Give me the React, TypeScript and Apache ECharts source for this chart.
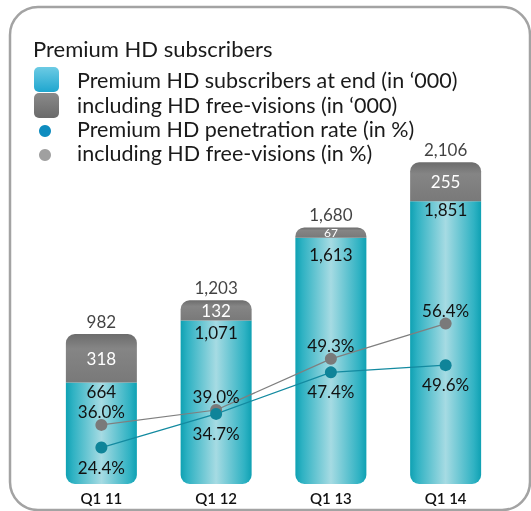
import React, { useEffect, useRef } from "react";
import * as echarts from "echarts";

const categories = ["Q1 11", "Q1 12", "Q1 13", "Q1 14"];
const subscribers = [664, 1071, 1613, 1851];
const freeVisions = [318, 132, 67, 255];
const penetrationRate = [24.4, 34.7, 47.4, 49.6];
const penetrationInclFree = [36.0, 39.0, 49.3, 56.4];

const titleText = "Premium HD subscribers";
const legendItems = [
  "Premium HD subscribers at end (in \u2018000)",
  "including HD free-visions (in \u2018000)",
  "Premium HD penetration rate (in %)",
  "including HD free-visions (in %)",
];

const FONT = "Lato, 'Open Sans', sans-serif";

const fmt = (v: number) => v.toLocaleString("en-US");

export default function App() {
  const ref = useRef<HTMLDivElement>(null);
  useEffect(() => {
    if (!ref.current) return;
    const chart = echarts.init(ref.current, null, { renderer: "svg" });
    const totals = subscribers.map((v, i) => v + freeVisions[i]);

    const tealGrad = new echarts.graphic.LinearGradient(0, 0, 1, 0, [
      { offset: 0, color: "#0fa1b3" },
      { offset: 0.1, color: "#2fb2c3" },
      { offset: 0.5, color: "#a6dbe3" },
      { offset: 0.9, color: "#2fb2c3" },
      { offset: 1, color: "#0fa1b3" },
    ]);
    const grayGrad = new echarts.graphic.LinearGradient(0, 0, 0, 1, [
      { offset: 0, color: "#6c6c6c" },
      { offset: 0.3, color: "#858585" },
      { offset: 1, color: "#797979" },
    ]);

    const legendGraphics: any[] = [];
    const rowY = [80, 105, 129, 153];
    legendItems.forEach((t, i) => {
      if (i === 0) {
        legendGraphics.push({
          type: "rect",
          shape: { x: 34, y: rowY[i] - 13, width: 25, height: 25, r: 5 },
          style: {
            fill: new echarts.graphic.LinearGradient(0, 0, 0, 1, [
              { offset: 0, color: "#6ccbe4" },
              { offset: 1, color: "#1fa6cf" },
            ]),
          },
        });
      } else if (i === 1) {
        legendGraphics.push({
          type: "rect",
          shape: { x: 34, y: rowY[i] - 12, width: 25, height: 25, r: 5 },
          style: {
            fill: new echarts.graphic.LinearGradient(0, 0, 0, 1, [
              { offset: 0, color: "#8a8a8a" },
              { offset: 1, color: "#6a6a6a" },
            ]),
          },
        });
      } else {
        legendGraphics.push({
          type: "circle",
          shape: { cx: 45, cy: rowY[i] + 2, r: 6 },
          style: { fill: i === 2 ? "#0e8cbf" : "#a0a0a0" },
        });
      }
      legendGraphics.push({
        type: "text",
        x: 77,
        y: rowY[i],
        style: {
          text: t,
          fill: "#1a1a1a",
          font: `21.5px ${FONT}`,
          verticalAlign: "middle",
        },
      });
    });

    const valueLabel = {
      color: "#111",
      fontSize: 17,
      lineHeight: 17,
      fontFamily: FONT,
    };

    // push the teal-segment label further down when the grey cap above is short
    const tealLabelGap = (grey: number) => (grey < 100 ? 8 : grey < 200 ? 4 : 0);

    chart.setOption({
      animation: false,
      grid: { left: 44, right: 28, top: 148, bottom: 27 },
      graphic: [
        {
          type: "rect",
          shape: { x: 10, y: 7, width: 520, height: 503, r: 28 },
          style: { fill: "#ffffff", stroke: "#a3a3a3", lineWidth: 2.5 },
          z: -10,
        },
        {
          type: "text",
          x: 33,
          y: 48,
          style: {
            text: titleText,
            fill: "#1a1a1a",
            font: `22px ${FONT}`,
            verticalAlign: "middle",
          },
        },
        ...legendGraphics,
      ],
      xAxis: {
        type: "category",
        data: categories,
        axisLine: { show: false },
        axisTick: { show: false },
        axisLabel: {
          color: "#111",
          fontSize: 15,
          fontFamily: FONT,
          fontWeight: 600,
          margin: 6,
        },
      },
      yAxis: [
        { type: "value", min: 0, max: 2200, show: false },
        { type: "value", min: 24.1, max: 91.75, show: false },
        { type: "value", min: 13.26, max: 116, show: false },
      ],
      series: [
        {
          name: legendItems[0],
          type: "bar",
          stack: "subs",
          barWidth: 71,
          data: subscribers.map((v, i) => ({
            value: v,
            label: { distance: tealLabelGap(freeVisions[i]) },
          })),
          itemStyle: { color: tealGrad, borderRadius: [0, 0, 9, 9] },
          label: {
            show: true,
            position: "insideTop",
            distance: 0,
            ...valueLabel,
            formatter: (p: any) => fmt(p.value),
          },
        },
        {
          name: legendItems[1],
          type: "bar",
          stack: "subs",
          barWidth: 71,
          data: freeVisions.map((v) => ({
            value: v,
            label: v < 100 ? { fontSize: 12, lineHeight: 12 } : undefined,
          })),
          itemStyle: { color: grayGrad, borderRadius: [9, 9, 0, 0] },
          label: {
            show: true,
            position: "inside",
            ...valueLabel,
            color: "#ffffff",
            formatter: (p: any) => fmt(p.value),
          },
        },
        {
          name: "total",
          type: "scatter",
          data: totals,
          symbolSize: 0,
          silent: true,
          label: {
            show: true,
            position: "top",
            distance: 4,
            ...valueLabel,
            formatter: (p: any) => fmt(p.value),
          },
        },
        {
          name: legendItems[3],
          type: "line",
          yAxisIndex: 1,
          data: penetrationInclFree,
          symbol: "circle",
          symbolSize: 12,
          z: 5,
          lineStyle: { color: "#7f7f7f", width: 1.2 },
          itemStyle: { color: "#7a7a7a" },
          label: {
            show: true,
            position: "top",
            distance: -1,
            ...valueLabel,
            formatter: (p: any) => p.value.toFixed(1) + "%",
          },
        },
        {
          name: legendItems[2],
          type: "line",
          yAxisIndex: 2,
          data: penetrationRate,
          symbol: "circle",
          symbolSize: 12,
          z: 5,
          lineStyle: { color: "#138aa0", width: 1.2 },
          itemStyle: { color: "#0f8499" },
          label: {
            show: true,
            position: "bottom",
            distance: 5,
            ...valueLabel,
            formatter: (p: any) => p.value.toFixed(1) + "%",
          },
        },
      ],
    });
    return () => chart.dispose();
  }, []);
  return (
    <div
      ref={ref}
      style={{ position: "fixed", left: 0, top: 0, width: 531, height: 511 }}
    />
  );
}
